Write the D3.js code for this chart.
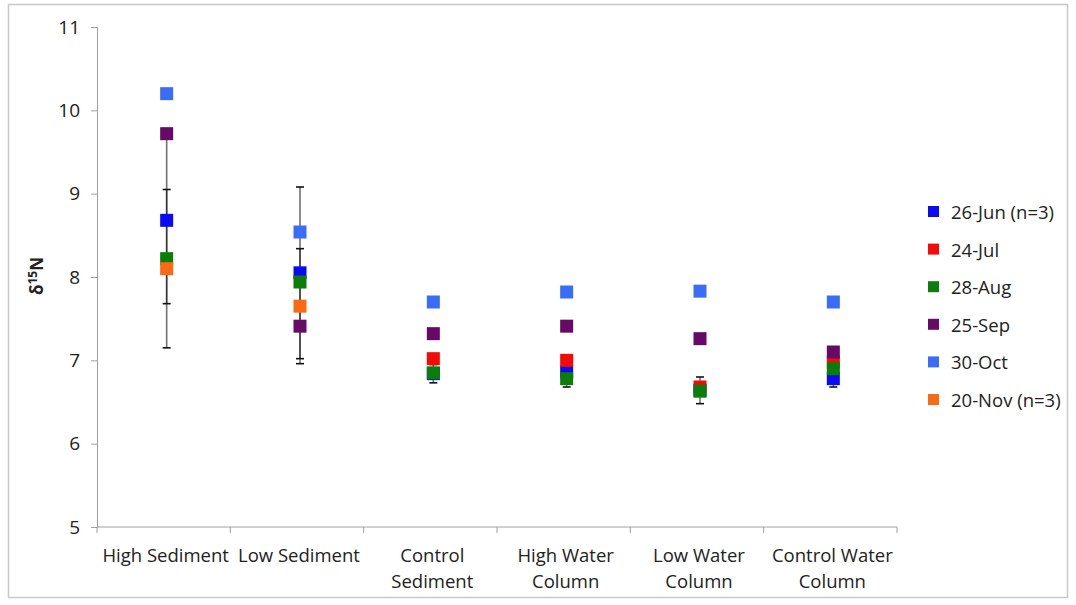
<!DOCTYPE html>
<html>
<head>
<meta charset="utf-8">
<script src="https://cdn.jsdelivr.net/npm/d3@7"></script>
<style>
  body { margin: 0; background: #fff; }
  text { font-family: "Open Sans", sans-serif; fill: #222; }
</style>
</head>
<body>
<div id="chart"></div>
<script>
const width = 1076
const height = 605

// categories, two-line tick labels
const categories = ["High Sediment", "Low Sediment", "Control Sediment", "High Water Column", "Low Water Column", "Control Water Column"]
const tickLabels = [["High Sediment"], ["Low Sediment"], ["Control", "Sediment"], ["High Water", "Column"], ["Low Water", "Column"], ["Control Water", "Column"]]
const yTicks = [5, 6, 7, 8, 9, 10, 11]

// series values (d15N), null = no sample
const jun26 = [8.68, 8.05, 6.84, 6.86, 6.64, 6.78]
const jun26Err = [1.0, 1.03, 0.11, 0.18, 0.16, 0.1]
const jul24 = [null, null, 7.02, 7.0, 6.68, 6.98]
const aug28 = [8.22, 7.94, 6.85, 6.78, 6.63, 6.9]
const sep25 = [9.72, 7.41, 7.32, 7.41, 7.26, 7.1]
const oct30 = [10.2, 8.54, 7.7, 7.82, 7.83, 7.7]
const nov20 = [8.1, 7.65, null, null, null, null]
const nov20Err = [0.95, 0.69, null, null, null, null]

const series = [
  { name: "26-Jun (n=3)", color: "#0a0af5", values: jun26, err: jun26Err },
  { name: "24-Jul", color: "#f50a0a", values: jul24 },
  { name: "28-Aug", color: "#0a7d0a", values: aug28 },
  { name: "25-Sep", color: "#660a66", values: sep25 },
  { name: "30-Oct", color: "#3a6df5", values: oct30 },
  { name: "20-Nov (n=3)", color: "#fa6a12", values: nov20, err: nov20Err },
]

const svg = d3.select("#chart")
  .append("svg")
  .attr("width", width)
  .attr("height", height)

// outer frame
svg.append("rect")
  .attr("x", 8.5).attr("y", 4.5)
  .attr("width", 1059).attr("height", 593)
  .attr("fill", "none")
  .attr("stroke", "#c8c8c8")
  .attr("stroke-width", 1.5)

const xScale = d3.scaleBand()
  .domain(categories)
  .range([97, 897])

const yScale = d3.scaleLinear()
  .domain([5, 11])
  .range([527, 27])

const axisColor = "#a0a0a0"

// y axis
const yAxis = svg.append("g")
  .attr("transform", "translate(97,0)")
  .call(d3.axisLeft(yScale).tickValues(yTicks).tickFormat(d3.format("d")).tickSize(6).tickPadding(11))
yAxis.select(".domain").attr("stroke", axisColor)
yAxis.selectAll(".tick line").attr("stroke", axisColor)
yAxis.selectAll(".tick text")
  .style("font-size", "19px")
  .style("font-family", "Open Sans, sans-serif")
  .attr("fill", "#222")

// x axis: line plus ticks on category boundaries
const xAxis = svg.append("g")
  .attr("transform", "translate(0,527)")
xAxis.append("line")
  .attr("x1", 97).attr("x2", 897)
  .attr("stroke", axisColor)
xAxis.selectAll("line.bound")
  .data(categories.concat(["end"]))
  .join("line")
  .attr("class", "bound")
  .attr("x1", (d, i) => 97 + i * xScale.bandwidth())
  .attr("x2", (d, i) => 97 + i * xScale.bandwidth())
  .attr("y1", 0).attr("y2", 6)
  .attr("stroke", axisColor)

xAxis.selectAll("text.cat")
  .data(categories)
  .join("text")
  .attr("class", "cat")
  .attr("text-anchor", "middle")
  .attr("y", 35)
  .style("font-size", "18.5px")
  .each(function(d, i) {
    d3.select(this).selectAll("tspan")
      .data(tickLabels[i])
      .join("tspan")
      .attr("x", xScale(d) + xScale.bandwidth() / 2 + 2)
      .attr("dy", (t, j) => j === 0 ? 0 : 26)
      .text(t => t)
  })

// y axis title
const yTitle = svg.append("text")
  .attr("transform", "translate(43,276) rotate(-90)")
  .attr("text-anchor", "middle")
  .style("font-size", "17px")
  .style("font-weight", "bold")
yTitle.append("tspan").text("δ")
yTitle.append("tspan").attr("dy", -6).style("font-size", "12px").text("15")
yTitle.append("tspan").attr("dy", 6).text("N")

const cx = i => xScale(categories[i]) + xScale.bandwidth() / 2 + 3

// error bars
const errData = []
series.forEach(s => {
  if (!s.err) return
  s.values.forEach((v, i) => {
    if (v != null && s.err[i] != null) errData.push({ i, v, e: s.err[i] })
  })
})

const eb = svg.selectAll("g.err")
  .data(errData)
  .join("g")
  .attr("class", "err")
  .attr("stroke", "#111")
  .attr("stroke-opacity", 0.6)
  .attr("stroke-width", 1.6)
eb.append("line")
  .attr("x1", d => cx(d.i)).attr("x2", d => cx(d.i))
  .attr("y1", d => yScale(d.v + d.e)).attr("y2", d => yScale(d.v - d.e))
eb.selectAll("line.cap")
  .data(d => [d.v + d.e, d.v - d.e].map(y => ({ i: d.i, y })))
  .join("line")
  .attr("class", "cap")
  .attr("stroke-opacity", 1)
  .attr("x1", d => cx(d.i) - 4).attr("x2", d => cx(d.i) + 4)
  .attr("y1", d => yScale(d.y)).attr("y2", d => yScale(d.y))

// markers
const size = 13
series.forEach((s, k) => {
  svg.selectAll("rect.s" + k)
    .data(s.values.map((v, i) => ({ v, i })).filter(d => d.v != null))
    .join("rect")
    .attr("class", "s" + k)
    .attr("x", d => cx(d.i) - size / 2)
    .attr("y", d => yScale(d.v) - size / 2)
    .attr("width", size)
    .attr("height", size)
    .attr("fill", s.color)
})

// legend
const legend = svg.selectAll("g.legend")
  .data(series)
  .join("g")
  .attr("class", "legend")
  .attr("transform", (d, i) => `translate(928,${212 + i * 37.6})`)
legend.append("rect")
  .attr("x", 0).attr("y", -6)
  .attr("width", 11).attr("height", 11)
  .attr("fill", d => d.color)
legend.append("text")
  .attr("x", 23).attr("y", 7)
  .style("font-size", "18.5px")
  .text(d => d.name)
</script>
</body>
</html>
